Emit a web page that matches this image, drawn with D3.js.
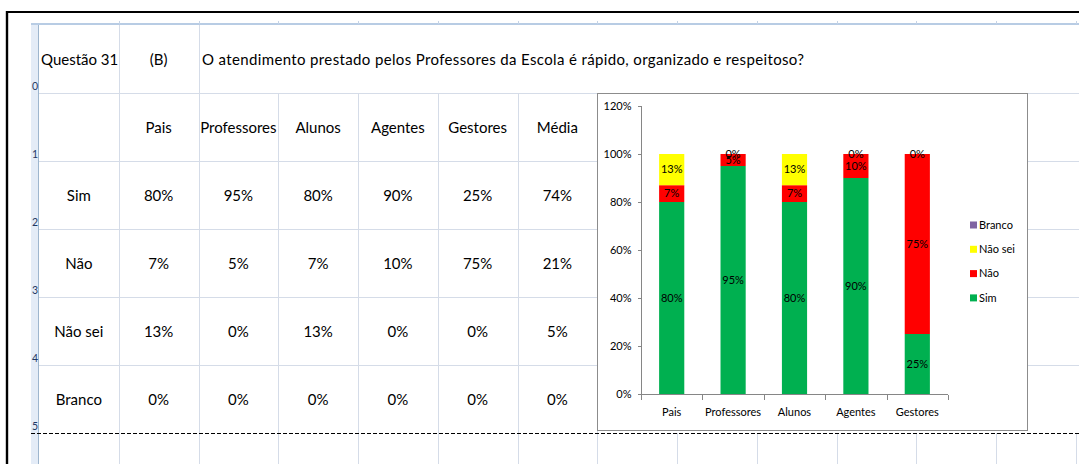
<!DOCTYPE html>
<html>
<head>
<meta charset="utf-8">
<script src="https://cdn.jsdelivr.net/npm/d3@7"></script>
<style>
  html, body { margin: 0; padding: 0; background: #fff; }
  svg { display: block; }
  text { font-family: Lato, "Open Sans", sans-serif; }
</style>
</head>
<body>
<svg id="sheet" width="1079" height="464"></svg>
<script>
// Survey answers per respondent group (percent)
const groups = ["Pais", "Professores", "Alunos", "Agentes", "Gestores"];
const tableColumns = ["Pais", "Professores", "Alunos", "Agentes", "Gestores", "Média"];
const answerNames = ["Sim", "Não", "Não sei", "Branco"];
const sim = [80, 95, 80, 90, 25, 74];
const nao = [7, 5, 7, 10, 75, 21];
const naoSei = [13, 0, 13, 0, 0, 5];
const branco = [0, 0, 0, 0, 0, 0];
const yTicks = [0, 20, 40, 60, 80, 100, 120];
const questionLabel = "Questão 31";
const questionCode = "(B)";
const questionText = "O atendimento prestado pelos Professores da Escola é rápido, organizado e respeitoso?";

const answerValues = [sim, nao, naoSei, branco];
const answerColors = ["#00b050", "#ff0000", "#ffff00", "#8064a2"];
const labelledAnswers = ["Sim", "Não", "Não sei"];

const svg = d3.select("#sheet");
const gridColor = "#d5dce8";
const headColor = "#9eb6ce";

// ---- spreadsheet grid ----
const colX = d3.scaleLinear().domain([0, 1]).range([39, 39 + 79.75]);
const rowTops = [24, 93, 161, 229, 297, 365, 433];
const sheetBottom = 464;

const grid = svg.append("g").attr("shape-rendering", "crispEdges");

// row header strip
grid.append("rect").attr("x", 31).attr("y", 24).attr("width", 8).attr("height", sheetBottom - 24)
  .attr("fill", "#e4ecf7");
grid.append("line").attr("x1", 38.5).attr("x2", 38.5).attr("y1", 24).attr("y2", sheetBottom)
  .attr("stroke", headColor);

// column header bottom edge with small tick marks
grid.append("line").attr("x1", 31).attr("x2", 1079).attr("y1", 24).attr("y2", 24)
  .attr("stroke", "#b8cce4").attr("stroke-width", 2);
d3.range(1, 14).forEach(k => {
  grid.append("line").attr("x1", Math.round(colX(k)) + 0.5).attr("x2", Math.round(colX(k)) + 0.5)
    .attr("y1", 21).attr("y2", 24).attr("stroke", "#c5d3e6");
});

// horizontal cell borders
rowTops.slice(1, 6).forEach(y => {
  grid.append("line").attr("x1", 39).attr("x2", 1079).attr("y1", y + 0.5).attr("y2", y + 0.5)
    .attr("stroke", gridColor);
});

// vertical cell borders in the question row (text overflows the rest)
[1, 2].forEach(k => {
  grid.append("line").attr("x1", Math.round(colX(k)) + 0.5).attr("x2", Math.round(colX(k)) + 0.5)
    .attr("y1", 25).attr("y2", 93).attr("stroke", gridColor);
});
// vertical borders in the data rows
d3.range(1, 8).forEach(k => {
  grid.append("line").attr("x1", Math.round(colX(k)) + 0.5).attr("x2", Math.round(colX(k)) + 0.5)
    .attr("y1", 93).attr("y2", 433).attr("stroke", gridColor);
});
// vertical borders below the page break
d3.range(1, 14).forEach(k => {
  grid.append("line").attr("x1", Math.round(colX(k)) + 0.5).attr("x2", Math.round(colX(k)) + 0.5)
    .attr("y1", 433).attr("y2", sheetBottom).attr("stroke", gridColor);
});

// row numbers
d3.range(0, 6).forEach(r => {
  svg.append("text").attr("x", 32).attr("y", rowTops[r + 1] - 3)
    .attr("font-size", 10.5).attr("fill", "#1f3864").text(r);
});

// page break
svg.append("line").attr("x1", 31).attr("x2", 1079).attr("y1", 433.5).attr("y2", 433.5)
  .attr("stroke", "#000").attr("stroke-dasharray", "4,2");

// window frame
svg.append("line").attr("x1", 6).attr("x2", 1079).attr("y1", 12).attr("y2", 12)
  .attr("stroke", "#000").attr("stroke-width", 2.2);
svg.append("line").attr("x1", 7).attr("x2", 7).attr("y1", 11).attr("y2", sheetBottom)
  .attr("stroke", "#000").attr("stroke-width", 2.4);

// ---- cell text ----
const cellFont = 15;
const cells = svg.append("g").attr("font-size", cellFont).attr("fill", "#000");
const colCenter = k => colX(k) + 79.75 / 2;

cells.append("text").attr("x", 41).attr("y", rowTops[0] + 41).text(questionLabel);
cells.append("text").attr("x", colCenter(1)).attr("y", rowTops[0] + 41)
  .attr("text-anchor", "middle").text(questionCode);
cells.append("text").attr("x", 202).attr("y", rowTops[0] + 41)
  .attr("textLength", 602).attr("lengthAdjust", "spacing").text(questionText);

tableColumns.forEach((c, i) => {
  cells.append("text").attr("x", colCenter(i + 1)).attr("y", rowTops[1] + 40)
    .attr("text-anchor", "middle").text(c);
});
answerNames.forEach((name, r) => {
  const y = rowTops[r + 2] + 40;
  cells.append("text").attr("x", colCenter(0)).attr("y", y).attr("text-anchor", "middle").text(name);
  answerValues[r].forEach((v, i) => {
    cells.append("text").attr("x", colCenter(i + 1)).attr("y", y)
      .attr("text-anchor", "middle").text(v + "%");
  });
});

// ---- embedded chart ----
const chartFont = 11;
const chart = svg.append("g");
chart.append("rect").attr("x", 597.5).attr("y", 93.5).attr("width", 430).attr("height", 337)
  .attr("fill", "#fff").attr("stroke", "#8c8c8c").attr("shape-rendering", "crispEdges");

const y = d3.scaleLinear().domain([0, 120]).range([394, 106]);
const xSlots = d3.scaleBand().domain(groups).range([641, 948]).padding(0);
const x = d3.scaleBand().domain(groups).range([641, 948]).paddingInner(0.59).paddingOuter(0.295);

// stacked segments
const rows = groups.map((g, i) => {
  const o = { group: g };
  answerNames.forEach((a, s) => { o[a] = answerValues[s][i]; });
  return o;
});
const stacked = d3.stack().keys(answerNames)(rows);

stacked.forEach((layer, s) => {
  chart.append("g").attr("fill", answerColors[s]).selectAll("rect")
    .data(layer).join("rect")
    .attr("x", d => x(d.data.group))
    .attr("width", x.bandwidth())
    .attr("y", d => y(d[1]))
    .attr("height", d => y(d[0]) - y(d[1]));
});

// value labels
stacked.forEach((layer, s) => {
  if (!labelledAnswers.includes(layer.key)) return;
  chart.append("g").selectAll("text")
    .data(layer.filter(d => !(d.data[layer.key] === 0 && layer.key !== "Não sei")))
    .join("text")
    .attr("x", d => x(d.data.group) + x.bandwidth() / 2)
    .attr("y", d => (y(d[0]) + y(d[1])) / 2)
    .attr("dy", "0.35em")
    .attr("text-anchor", "middle")
    .attr("font-size", chartFont)
    .attr("fill", "#000")
    .text(d => d.data[layer.key] + "%");
});

// y axis
const yAxis = chart.append("g").attr("transform", "translate(641.5,0)")
  .call(d3.axisLeft(y).tickValues(yTicks).tickSize(4).tickPadding(6).tickFormat(d => d + "%"));
yAxis.selectAll("path, line").attr("stroke", "#868686").attr("shape-rendering", "crispEdges");
yAxis.select(".domain").attr("d", `M0,${y(120)}V${y(0)}`);
yAxis.selectAll("text").attr("font-family", "Lato, sans-serif").attr("font-size", chartFont).attr("fill", "#000");

// x axis with ticks between categories
const xAxisG = chart.append("g").attr("transform", "translate(0,394.5)").attr("shape-rendering", "crispEdges");
xAxisG.append("line").attr("x1", 641).attr("x2", 948).attr("stroke", "#868686");
xAxisG.selectAll("line.tick").data(groups.concat(["end"])).join("line")
  .attr("class", "tick")
  .attr("x1", (d, i) => Math.round(i < groups.length ? xSlots(d) : 948) + 0.5)
  .attr("x2", (d, i) => Math.round(i < groups.length ? xSlots(d) : 948) + 0.5)
  .attr("y1", 0).attr("y2", 5).attr("stroke", "#868686");
xAxisG.selectAll("text").data(groups).join("text")
  .attr("x", d => xSlots(d) + xSlots.bandwidth() / 2)
  .attr("y", 21)
  .attr("text-anchor", "middle")
  .attr("font-size", chartFont)
  .attr("fill", "#000")
  .text(d => d);

// legend (reverse stacking order)
const legend = chart.append("g").attr("transform", "translate(970,225)");
answerNames.slice().reverse().forEach((name, i) => {
  const s = answerNames.indexOf(name);
  const row = legend.append("g").attr("transform", `translate(0,${i * 24.3})`);
  row.append("rect").attr("x", 0).attr("y", -3.5).attr("width", 7).attr("height", 7)
    .attr("fill", answerColors[s]);
  row.append("text").attr("x", 9).attr("y", 0).attr("dy", "0.35em")
    .attr("font-size", chartFont).attr("fill", "#000").text(name);
});
</script>
</body>
</html>
